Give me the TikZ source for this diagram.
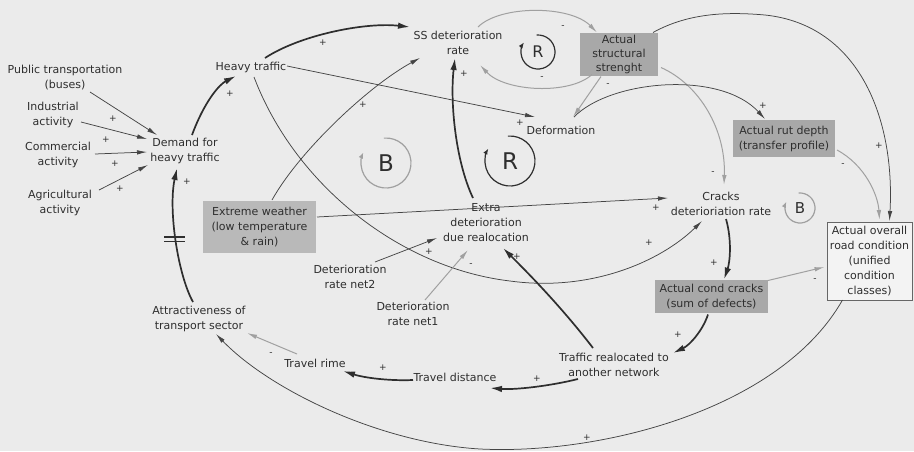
\documentclass[tikz,border=0pt]{standalone}
\usepackage{fontspec}
\setmainfont{DejaVu Sans}
\usetikzlibrary{arrows.meta,calc}
\definecolor{bg}{HTML}{EBEBEB}
\definecolor{ink}{HTML}{2E2E2E}
\definecolor{lin}{HTML}{454545}
\definecolor{gln}{HTML}{A0A0A0}
\definecolor{boxg}{HTML}{A8A8A8}
\definecolor{boxl}{HTML}{B9B9B9}
\definecolor{boxw}{HTML}{F3F3F3}
\begin{document}
\begin{tikzpicture}[x=1pt,y=-1pt,
  txt/.style={text=ink,align=center,inner sep=0pt,font=\fontsize{11}{15}\selectfont},
  gbox/.style={txt,fill=boxg},
  lbox/.style={txt,fill=boxl},
  wbox/.style={txt,fill=boxw,draw=gray!80!black,line width=0.6pt},
  sg/.style={text=ink,inner sep=0pt,font=\fontsize{9}{9}\selectfont},
  lnk/.style={draw=lin,line width=0.75pt,-{Latex[length=10pt,width=4.5pt]}},
  lnkk/.style={draw=ink,line width=1.7pt,-{Latex[length=12pt,width=6.5pt]}},
  lnkg/.style={draw=gln,line width=1pt,-{Latex[length=10pt,width=4.5pt]}},
  loopd/.style={draw=ink,line width=1.2pt,-{Latex[length=6pt,width=4.5pt]}},
  loopg/.style={draw=gln,line width=1.2pt,-{Latex[length=6pt,width=4.5pt]}},
  letr/.style={text=ink,inner sep=0pt}
]
\useasboundingbox (0,0) rectangle (914,451);
\fill[bg] (0,0) rectangle (914,451);

% nodes
\node[txt] (pub) at (65,78) {Public transportation\\(buses)};
\node[txt] (ind) at (53,115) {Industrial\\activity};
\node[txt] (com) at (58,155) {Commercial\\activity};
\node[txt] (agr) at (60,203) {Agricultural\\activity};
\node[txt] (dem) at (185,151) {Demand for\\heavy traffic};
\node[txt] (heavy) at (251,67) {Heavy traffic};
\node[txt] (ss) at (458,43) {SS deterioration\\rate};
\node[gbox,minimum width=78pt,minimum height=43pt,font=\fontsize{11}{14}\selectfont] (str) at (619,54.5) {Actual\\structural\\strenght};
\node[txt] (def) at (561,130) {Deformation};
\node[gbox,minimum width=102pt,minimum height=37pt] (rut) at (784,138.5) {Actual rut depth\\(transfer profile)};
\node[txt] (crk) at (721,204) {Cracks\\deterioriation rate};
\node[wbox,minimum width=85pt,minimum height=78pt] (ovr) at (869.5,261) {Actual overall\\road condition\\(unified\\condition\\classes)};
\node[lbox,minimum width=113pt,minimum height=52pt] (ext) at (259.5,227) {Extreme weather\\(low temperature\\\& rain)};
\node[txt] (xtra) at (486,223) {Extra\\deterioration\\due realocation};
\node[txt] (net2) at (350,277) {Deterioration\\rate net2};
\node[txt] (net1) at (413,314) {Deterioration\\rate net1};
\node[txt] (attr) at (199,319) {Attractiveness of\\transport sector};
\node[txt] (trime) at (315,363) {Travel rime};
\node[txt] (tdist) at (455,377) {Travel distance};
\node[txt] (trel) at (614,365) {Traffic realocated to\\another network};
\node[gbox,minimum width=113pt,minimum height=33pt] (ccr) at (711.5,296.5) {Actual cond cracks\\(sum of defects)};

% loop markers
\node[letr,font=\fontsize{16}{16}\selectfont] (r1) at (538,52) {R};
\draw[loopd] ($(r1)+(-95:17)$) arc[start angle=-95,end angle=215,radius=17];
\node[letr,font=\fontsize{23}{23}\selectfont] (r2) at (510,161) {R};
\draw[loopd] ($(r2)+(-95:25)$) arc[start angle=-95,end angle=210,radius=25];
\node[letr,font=\fontsize{23}{23}\selectfont] (b1) at (386,163) {B};
\draw[loopg] ($(b1)+(-95:25)$) arc[start angle=-95,end angle=205,radius=25];
\node[letr,font=\fontsize{15}{15}\selectfont] (b2) at (800,208) {B};
\draw[loopg] ($(b2)+(-95:15)$) arc[start angle=-95,end angle=205,radius=15];

% connectors
\draw[lnk] ($(pub)+(25,14)$) -- ($(dem)+(-28,-16)$);
\draw[lnk] ($(ind)+(28,7)$) -- ($(dem)+(-38,-12)$);
\draw[lnk] ($(com)+(37,-1)$) -- ($(dem)+(-38,1)$);
\draw[lnk] ($(agr)+(39,-13)$) -- ($(dem)+(-37,14)$);
\draw[lnkk] ($(dem)+(7,-16)$) .. controls (205,100) and (220,84) .. ($(heavy)+(-15,9)$);
\draw[lnkk] ($(heavy)+(14,-9)$) .. controls (300,35) and (365,22) .. ($(ss)+(-48,-16)$);
\draw[lnkk] ($(attr)+(-6,-17)$) .. controls (178,275) and (168,210) .. ($(dem)+(-8,17)$);
\draw[draw=ink,line width=1.3pt] (164,237) -- (185,237) (164,241.5) -- (185,241.5);
\draw[lnk] ($(heavy)+(36,-1)$) -- ($(def)+(-26,-13)$);
\draw[lnk] ($(heavy)+(3,10)$) .. controls (295,185) and (400,268) .. (510,281) .. controls (590,292) and (660,262) .. ($(crk)+(-19,17)$);
\draw[lnk] ($(ext)+(12.5,-27)$) .. controls (300,150) and (370,85) .. ($(ss)+(-38,15)$);
\draw[lnk] ($(ext)+(57.5,-10)$) -- ($(crk)+(-53,-6)$);
\draw[lnkk] ($(xtra)+(-13,-25)$) .. controls (455,160) and (450,100) .. ($(ss)+(-3,15)$);
\draw[lnk] ($(net2)+(25,-15)$) -- ($(xtra)+(-49,15)$);
\draw[lnkg] ($(net1)+(12,-14)$) -- ($(xtra)+(-18,27)$);
\draw[lnkk] ($(trel)+(-21,-17)$) .. controls (560,305) and (525,270) .. ($(xtra)+(17,25)$);
\draw[lnkk] ($(trel)+(-36,14)$) .. controls (550,386) and (515,390) .. ($(tdist)+(35,11)$);
\draw[lnkk] ($(tdist)+(-42,3)$) .. controls (390,381) and (365,378) .. ($(trime)+(28,8)$);
\draw[lnkg] ($(trime)+(-18,-9)$) -- ($(attr)+(48,14)$);
\draw[lnk] ($(ovr)+(-27,39)$) .. controls (780,410) and (600,455) .. (480,449) .. controls (380,443) and (270,390) .. ($(attr)+(17,15)$);
\draw[lnkk] ($(ccr)+(-3.5,18)$) .. controls (703,330) and (690,345) .. ($(trel)+(59,-12)$);
\draw[lnkk] ($(crk)+(5,15)$) .. controls (732,240) and (730,262) .. ($(ccr)+(12.5,-17)$);
\draw[lnkg] ($(ccr)+(56.5,-16)$) -- ($(ovr)+(-45,6)$);
\draw[lnkg] ($(rut)+(53,11.5)$) .. controls (865,165) and (878,195) .. ($(ovr)+(10,-41)$);
\draw[lnk] ($(str)+(34,-22)$) .. controls (690,12) and (730,12) .. (765,15) .. controls (860,25) and (895,120) .. ($(ovr)+(20,-40)$);
\draw[lnkg] ($(str)+(42,13)$) .. controls (700,85) and (726,130) .. ($(crk)+(3,-19)$);
\draw[lnk] ($(def)+(13,-13)$) .. controls (610,80) and (720,70) .. ($(rut)+(-19,-19.5)$);
\draw[lnkg] ($(str)+(-18,22)$) -- ($(def)+(12,-13)$);
\draw[lnkg] ($(ss)+(20,-16)$) .. controls (500,5) and (570,5) .. ($(str)+(-22,-22)$);
\draw[lnkg] ($(str)+(-27,20)$) .. controls (570,95) and (505,92) .. ($(ss)+(22,22)$);

% polarity signs
\node[sg] (s1) at (113,119) {+};
\node[sg] (s2) at (106,140) {+};
\node[sg] (s3) at (115,164) {+};
\node[sg] (s4) at (120,189) {+};
\node[sg] (s5) at (230,94) {+};
\node[sg] (s6) at (323,43) {+};
\node[sg] (s7) at (187,182) {+};
\node[sg] (s8) at (520,123) {+};
\node[sg] (s9) at (363,105) {+};
\node[sg] (s10) at (464,74) {+};
\node[sg] (s11) at (656,208) {+};
\node[sg] (s12) at (649,243) {+};
\node[sg] (s13) at (429,252) {+};
\node[sg] (s14) at (471,265) {-};
\node[sg] (s15) at (517,257) {+};
\node[sg] (s16) at (537,379) {+};
\node[sg] (s17) at (383,368) {+};
\node[sg] (s18) at (271,354) {-};
\node[sg] (s19) at (587,438) {+};
\node[sg] (s20) at (678,335) {+};
\node[sg] (s21) at (714,263) {+};
\node[sg] (s22) at (815,280) {-};
\node[sg] (s23) at (843,165) {-};
\node[sg] (s24) at (879,146) {+};
\node[sg] (s25) at (713,173) {-};
\node[sg] (s26) at (763,106) {+};
\node[sg] (s27) at (608,85) {-};
\node[sg] (s28) at (563,27) {-};
\node[sg] (s29) at (542,78) {-};
\end{tikzpicture}
\end{document}
